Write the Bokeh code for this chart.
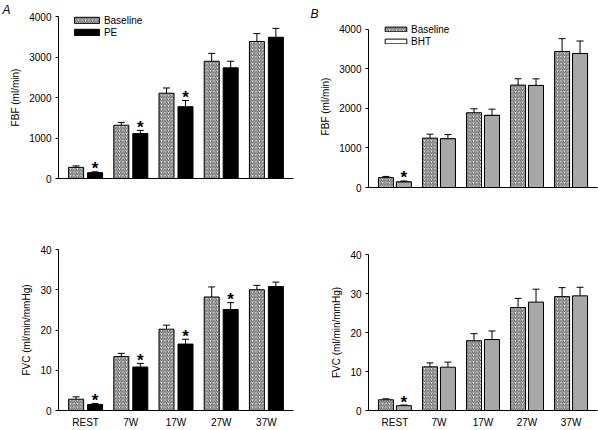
import numpy as np
from bokeh.plotting import figure
from bokeh.models import (Range1d, FixedTicker, Whisker, ColumnDataSource, Legend,
                          LegendItem, TeeHead)
from bokeh.layouts import column, row
from bokeh.embed import file_html
from bokeh.resources import INLINE
from bokeh.core.properties import value

categories = ["REST", "7W", "17W", "27W", "37W"]

# ---- Panel A (Baseline vs PE) ----
a_fbf_baseline = [275, 1315, 2105, 2895, 3382]
a_fbf_baseline_err = [35, 70, 130, 195, 195]
a_fbf_pe = [145, 1110, 1773, 2732, 3488]
a_fbf_pe_err = [20, 78, 154, 163, 219]
a_fbf_pe_sig = [True, True, True, False, False]

a_fvc_baseline = [2.8, 13.4, 20.2, 28.2, 30.0]
a_fvc_baseline_err = [0.6, 0.8, 1.0, 2.5, 1.1]
a_fvc_pe = [1.5, 10.8, 16.5, 25.1, 30.8]
a_fvc_pe_err = [0.25, 0.9, 1.2, 1.7, 1.1]
a_fvc_pe_sig = [True, True, True, True, False]

# ---- Panel B (Baseline vs BHT) ----
b_fbf_baseline = [250, 1250, 1892, 2592, 3442]
b_fbf_baseline_err = [30, 100, 100, 160, 325]
b_fbf_bht = [140, 1233, 1825, 2583, 3392]
b_fbf_bht_err = [25, 107, 158, 167, 316]
b_fbf_bht_sig = [True, False, False, False, False]

b_fvc_baseline = [2.75, 11.2, 17.9, 26.4, 29.2]
b_fvc_baseline_err = [0.25, 1.0, 1.8, 2.35, 2.3]
b_fvc_bht = [1.25, 11.1, 18.2, 27.8, 29.4]
b_fvc_bht_err = [0.15, 1.3, 2.2, 3.3, 2.2]
b_fvc_bht_sig = [True, False, False, False, False]

fbf_ticks = [0, 1000, 2000, 3000, 4000]
fvc_ticks = [0, 10, 20, 30, 40]

FONT = "Liberation Sans"
HATCH = dict(fill_color="#e6e6e6", hatch_pattern="/", hatch_color="#5a5a5a",
             hatch_scale=3.5, hatch_weight=1, line_color="black", line_width=1)


def make_panel(width, height, mbl, mbr, mbt, mbb, y_max, y_end, y_ticks, y_label,
               base, base_err, trt, trt_err, sig, trt_style, half, bar_w,
               show_x_labels, legend_spec=None, panel_label=None):
    p = figure(width=width, height=height, x_range=Range1d(-0.6, 4.6),
               y_range=Range1d(0, y_end), output_backend="svg",
               toolbar_location=None, min_border_left=mbl, min_border_right=mbr,
               min_border_top=mbt, min_border_bottom=mbb)
    p.frame_align = False
    p.outline_line_color = None
    p.xgrid.visible = False
    p.ygrid.visible = False
    p.background_fill_color = "white"

    idx = np.arange(len(categories))
    xb = idx - half
    xt = idx + half
    base = np.array(base, dtype=float)
    trt = np.array(trt, dtype=float)
    base_top = base + np.array(base_err)
    trt_top = trt + np.array(trt_err)

    r_base = p.vbar(x=xb, top=base, bottom=0, width=bar_w, **HATCH)
    r_leg = None
    if legend_spec is not None and legend_spec[-1] is not None:
        # legend-only look of the treatment series (hidden under the real bars)
        r_leg = p.vbar(x=xt, top=trt, bottom=0, width=bar_w, **legend_spec[-1])
    r_trt = p.vbar(x=xt, top=trt, bottom=0, width=bar_w, **trt_style)
    if r_leg is None:
        r_leg = r_trt

    for xs, lo, hi in ((xb, base, base_top), (xt, trt, trt_top)):
        src = ColumnDataSource(dict(x=xs, lower=lo, upper=hi))
        w = Whisker(base="x", lower="lower", upper="upper", source=src,
                    upper_head=TeeHead(size=7, line_color="black", line_width=1),
                    lower_head=None, line_color="black", line_width=1)
        p.add_layout(w)

    sig = np.array(sig)
    if sig.any():
        p.text(x=xt[sig], y=trt_top[sig], text=["*"] * int(sig.sum()),
               text_font=value(FONT), text_font_size="17px", text_font_style="bold",
               text_align="center", text_baseline="middle", y_offset=-3,
               text_color="black")

    # axes
    ya = p.yaxis[0]
    ya.ticker = FixedTicker(ticks=y_ticks)
    ya.bounds = (0, y_max)
    ya.axis_label = y_label
    ya.major_tick_out = 3
    ya.major_tick_in = 0
    ya.minor_tick_out = 0
    ya.minor_tick_in = 0
    ya.major_label_standoff = 4
    ya.axis_label_standoff = 5
    ya.major_label_text_font = FONT
    ya.major_label_text_font_size = "10px"
    ya.major_label_text_color = "black"
    ya.axis_label_text_font = FONT
    ya.axis_label_text_font_size = "10px"
    ya.axis_label_text_font_style = "normal"
    ya.axis_label_text_color = "black"
    ya.axis_line_color = "black"
    ya.major_tick_line_color = "black"

    xa = p.xaxis[0]
    xa.ticker = FixedTicker(ticks=list(idx))
    xa.major_label_overrides = {int(i): c for i, c in zip(idx, categories)}
    xa.major_tick_out = 0
    xa.major_tick_in = 0
    xa.minor_tick_out = 0
    xa.minor_tick_in = 0
    xa.major_label_standoff = 6
    xa.major_label_text_font = FONT
    xa.major_label_text_font_size = "10px"
    xa.major_label_text_color = "black" if show_x_labels else None
    xa.axis_line_color = "black"

    if legend_spec is not None:
        labels, lx, ly, gw, gh, lh, _ = legend_spec
        leg = Legend(items=[LegendItem(label=labels[0], renderers=[r_base]),
                            LegendItem(label=labels[1], renderers=[r_leg])],
                     location=(lx, ly), orientation="vertical")
        leg.background_fill_alpha = 0
        leg.border_line_color = None
        leg.padding = 0
        leg.margin = 0
        leg.spacing = 0
        leg.glyph_width = gw
        leg.glyph_height = gh
        leg.label_height = lh
        leg.label_standoff = 2
        leg.label_text_font = FONT
        leg.label_text_font_size = "10px"
        leg.label_text_color = "black"
        p.add_layout(leg)

    if panel_label is not None:
        txt, off, standoff = panel_label
        p.title.text = txt
        p.title.align = "left"
        p.title.offset = off
        p.title.standoff = standoff
        p.title.text_font = FONT
        p.title.text_font_size = "12px"
        p.title.text_font_style = "italic"
        p.title.text_color = "black"
    return p


pe_style = dict(fill_color="black", line_color="black", line_width=1)
bht_style = dict(fill_color="#a8a8a8", line_color="black", line_width=1)
bht_legend_style = dict(fill_color="white", line_color="black", line_width=1)

A_W, B_W = 305, 293
TOP_H, BOT_H = 214, 216

# A top: frame x 58..293, y 14..178
a_top = make_panel(A_W, TOP_H, 58, 12, 14, 36, 4000, 4000, fbf_ticks, "FBF (ml/min)",
                   a_fbf_baseline, a_fbf_baseline_err, a_fbf_pe, a_fbf_pe_err,
                   a_fbf_pe_sig, pe_style, 0.21, 0.332, False,
                   legend_spec=(["Baseline", "PE"], 12.9, 164 - 24, 31, 8, 12, None),
                   panel_label=("A", -56, 0))
# B top: frame x 368..597, y 23..187 (4000 at y 27)
b_top = make_panel(B_W, TOP_H, 63, 1, 23, 27, 4000, 4100, fbf_ticks, "FBF (ml/min)",
                   b_fbf_baseline, b_fbf_baseline_err, b_fbf_bht, b_fbf_bht_err,
                   b_fbf_bht_sig, bht_style, 0.204, 0.34, False,
                   legend_spec=(["Baseline", "BHT"], 14, 164 - 24, 27, 6, 12,
                                bht_legend_style),
                   panel_label=("B", -58, 9))
# A bottom: frame y 249..413
a_bot = make_panel(A_W, BOT_H, 58, 12, 35, 17, 40, 40, fvc_ticks, "FVC (ml/min/mmHg)",
                   a_fvc_baseline, a_fvc_baseline_err, a_fvc_pe, a_fvc_pe_err,
                   a_fvc_pe_sig, pe_style, 0.21, 0.332, True)
# B bottom: frame y 254..413
b_bot = make_panel(B_W, BOT_H, 63, 1, 40, 17, 40, 40, fvc_ticks, "FVC (ml/min/mmHg)",
                   b_fvc_baseline, b_fvc_baseline_err, b_fvc_bht, b_fvc_bht_err,
                   b_fvc_bht_sig, bht_style, 0.204, 0.34, True)

layout = column(row(a_top, b_top), row(a_bot, b_bot))

with open("out.html", "w") as f:
    f.write(file_html(layout, INLINE))
